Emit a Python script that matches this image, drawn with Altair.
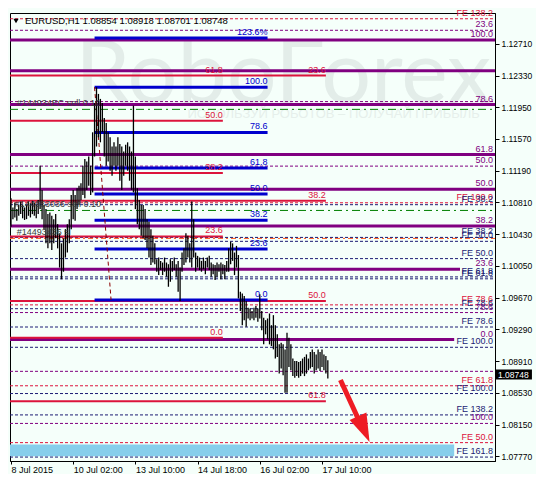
import altair as alt
import pandas as pd

# ---------------- data ----------------
highs = [1.1086, 1.1075, 1.1081, 1.1073, 1.1078, 1.1082, 1.1078, 1.1075, 1.1078, 1.1082,
         1.1080, 1.1083, 1.1081, 1.1078, 1.1084, 1.1125, 1.1096, 1.1078, 1.1073, 1.1067,
         1.1069, 1.1065, 1.1061, 1.1067, 1.1055, 1.1044, 1.1032, 1.1038, 1.1049, 1.1055,
         1.1061, 1.1090, 1.1096, 1.1090, 1.1098, 1.1101, 1.1104, 1.1125, 1.1133, 1.1130,
         1.1136, 1.1125, 1.1165, 1.1200, 1.1219, 1.1211, 1.1205, 1.1200, 1.1182, 1.1176,
         1.1165, 1.1159, 1.1148, 1.1153, 1.1148, 1.1159, 1.1151, 1.1148, 1.1142, 1.1150,
         1.1153, 1.1148, 1.1142, 1.1197, 1.1136, 1.1098, 1.1084, 1.1078, 1.1078, 1.1073,
         1.1061, 1.1058, 1.1049, 1.1041, 1.1032, 1.1013, 1.1015, 1.1011, 1.1009, 1.1015,
         1.1009, 1.1007, 1.1013, 1.1011, 1.1015, 1.1007, 1.1011, 1.1003, 1.1021, 1.1026,
         1.1044, 1.1041, 1.1032, 1.1082, 1.1061, 1.1021, 1.1017, 1.1015, 1.1011, 1.1015,
         1.1011, 1.1015, 1.1017, 1.1009, 1.1007, 1.1006, 1.1009, 1.1007, 1.1009, 1.1007,
         1.1006, 1.1011, 1.1026, 1.1034, 1.1032, 1.1021, 1.1029, 1.1018, 1.0974, 1.0972,
         1.0969, 1.0963, 1.0955, 1.0954, 1.0951, 1.0955, 1.0957, 1.0954, 1.0971, 1.0951,
         1.0943, 1.0940, 1.0942, 1.0948, 1.0934, 1.0946, 1.0934, 1.0923, 1.0911, 1.0913,
         1.0911, 1.0905, 1.0925, 1.0919, 1.0911, 1.0894, 1.0891, 1.0891, 1.0890, 1.0891,
         1.0894, 1.0896, 1.0899, 1.0894, 1.0902, 1.0905, 1.0902, 1.0899, 1.0905, 1.0902,
         1.0905, 1.0899, 1.0897, 1.0892]
lows = [1.1052, 1.1061, 1.1063, 1.1059, 1.1065, 1.1067, 1.1062, 1.1060, 1.1061, 1.1065,
        1.1063, 1.1067, 1.1065, 1.1062, 1.1067, 1.1073, 1.1061, 1.1049, 1.1032, 1.1026,
        1.1032, 1.1024, 1.1032, 1.1038, 1.1026, 1.1003, 1.0989, 1.0998, 1.1015, 1.1021,
        1.1032, 1.1049, 1.1061, 1.1059, 1.1073, 1.1078, 1.1084, 1.1090, 1.1086, 1.1096,
        1.1101, 1.1090, 1.1093, 1.1136, 1.1148, 1.1159, 1.1153, 1.1165, 1.1136, 1.1125,
        1.1130, 1.1119, 1.1113, 1.1125, 1.1119, 1.1125, 1.1107, 1.1096, 1.1113, 1.1125,
        1.1119, 1.1107, 1.1096, 1.1093, 1.1073, 1.1055, 1.1049, 1.1041, 1.1038, 1.1036,
        1.1026, 1.1015, 1.1006, 1.1009, 1.1007, 1.0998, 1.0994, 1.1000, 1.0994, 1.0998,
        1.0992, 1.0980, 1.0986, 1.0998, 1.1000, 1.0992, 1.0974, 1.0963, 1.0998, 1.1006,
        1.1009, 1.1015, 1.1009, 1.1003, 1.1015, 1.0998, 1.1003, 1.1000, 1.0998, 1.1001,
        1.0995, 1.1003, 1.1000, 1.0992, 1.0995, 1.0988, 1.0992, 1.0998, 1.0989, 1.0995,
        1.0989, 1.0998, 1.0998, 1.1007, 1.1011, 1.0994, 1.1003, 1.0966, 1.0951, 1.0934,
        1.0940, 1.0932, 1.0942, 1.0940, 1.0942, 1.0940, 1.0943, 1.0938, 1.0942, 1.0928,
        1.0911, 1.0923, 1.0917, 1.0911, 1.0909, 1.0905, 1.0894, 1.0896, 1.0876, 1.0882,
        1.0874, 1.0853, 1.0853, 1.0884, 1.0880, 1.0873, 1.0871, 1.0873, 1.0871, 1.0873,
        1.0876, 1.0873, 1.0876, 1.0880, 1.0882, 1.0884, 1.0876, 1.0880, 1.0882, 1.0879,
        1.0884, 1.0880, 1.0876, 1.0870]

x_tick_pos = [0, 32, 64, 96, 128, 160]
x_tick_text = ["8 Jul 2015", "10 Jul 02:00", "13 Jul 10:00", "14 Jul 18:00", "16 Jul 02:00", "17 Jul 10:00"]
price_ticks = [1.12710, 1.12330, 1.11950, 1.11570, 1.11190, 1.10810, 1.10430,
               1.10050, 1.09670, 1.09290, 1.08910, 1.08530, 1.08150, 1.07770]

title_text = "EURUSD,H1  1.08854 1.08918 1.08701 1.08748"
last_price = 1.08748

# purple solid Fibonacci (full width)
ps_price = [1.12756, 1.12387, 1.11983, 1.11383, 1.10968, 1.10529, 1.10010, 1.09167]
ps_end = [249, 249, 249, 249, 249, 249, 231, 228]
ps_label = ["100.0", "", "78.6", "61.8", "50.0", "38.2", "23.6", "0.0"]

# purple dashed Fibonacci
pd_price = [1.12872, 1.12018, 1.11245, 1.09491, 1.08787, 1.08163]
pd_label = ["23.6", "", "50.0", "78.6", "", "100.0"]

# red solid Fibonacci lines (two sets)
rs_price = [1.12329, 1.11787, 1.11164, 1.10829, 1.10402, 1.09629, 1.09190, 1.08429]
rs_end = [162, 109, 109, 162, 109, 162, 109, 162]
rl_text = ["61.8", "23.6", "50.0", "38.2", "38.2", "23.6", "50.0", "0.0", "61.8"]
rl_price = [1.12329, 1.12329, 1.11787, 1.11164, 1.10829, 1.10402, 1.09629, 1.09190, 1.08429]
rl_pos = [109, 162, 109, 109, 162, 109, 162, 109, 162]

# blue Fibonacci
bl_price = [1.12779, 1.12191, 1.11649, 1.11222, 1.10910, 1.10598, 1.10252, 1.09641]
bl_label = ["123.6%", "100.0", "78.6", "61.8", "50.0", "38.2", "23.6", "0.0"]
bl_start, bl_end = 43, 132

# Fibonacci expansions
fer_price = [1.13010, 1.10806, 1.09583, 1.08614, 1.07933]
fer_label = ["FE 138.2", "FE 100.0", "FE 78.6", "FE 61.8", "FE 50.0"]
fen_price = [1.10783, 1.10391, 1.10344, 1.10137, 1.09918, 1.09895, 1.09537,
             1.09318, 1.09075, 1.08521, 1.08265, 1.07760]
fen_label = ["FE 38.2", "FE 38.2", "FE 50.0", "FE 50.0", "FE 61.8", "FE 61.8", "FE 78.6",
             "FE 78.6", "FE 100.0", "FE 100.0", "FE 138.2", "FE 161.8"]

# order lines
green_price = [1.11925, 1.10714]
orange_price = [1.10379]
order_text = ["#144934EC sell 0.10", "#144983036 sell 0.10", "#14493436 sl"]
order_price = [1.11925, 1.10714, 1.10379]
order_pos = [3, 2, 3]

# target zone band
band_top, band_bottom, band_end = 1.07910, 1.07771, 228

# trend line (dashed) and arrow
trend_x = [43, 51.5]
trend_p = [1.12191, 1.09641]
arrow_x = [169.5, 179.5]
arrow_p = [1.08683, 1.08175]
head_x, head_p = 181.5, 1.08095

# ---------------- styling ----------------
X_MIN, X_MAX = -0.5, 249
Y_MIN, Y_MAX = 1.07713, 1.13079
LABEL_X = 248
BG = "#f5fffa"
FONT = "Liberation Sans"
PURPLE, RED, BLUE, NAVY = "#800080", "#dc143c", "#0000cd", "#1c1c74"

xs = alt.Scale(domain=[X_MIN, X_MAX], nice=False, zero=False)
ys = alt.Scale(domain=[Y_MIN, Y_MAX], nice=False, zero=False)

label_expr = " : ".join(f"datum.value == {p} ? '{t}'" for p, t in zip(x_tick_pos, x_tick_text)) + " : ''"
XAX = alt.Axis(values=x_tick_pos, labelExpr=label_expr, labelAlign="left", title=None,
               labelFontSize=9, labelFont=FONT, labelColor="black", tickSize=3,
               tickColor="black", domainColor="black", labelPadding=1,
               grid=False, labelFlush=False, labelOverlap=False)
YAX = alt.Axis(orient="right", values=price_ticks, format=".5f", labelFontSize=8.5, title=None,
               labelFont=FONT, labelColor="black", tickSize=4, tickColor="black",
               domainColor="black", labelPadding=2, grid=False, labelOverlap=False)


def X(field):
    return alt.X(field, scale=xs, axis=XAX, title=None)


def Y(field):
    return alt.Y(field, scale=ys, axis=YAX, title=None)


def seg_df(prices, x0, x1):
    n = len(prices)
    x0 = x0 if isinstance(x0, list) else [x0] * n
    x1 = x1 if isinstance(x1, list) else [x1] * n
    return pd.DataFrame({"p": prices, "x0": x0, "x1": x1})


def lab_df(texts, prices, pos):
    n = len(texts)
    pos = pos if isinstance(pos, list) else [pos] * n
    d = pd.DataFrame({"t": texts, "p": prices, "x": pos})
    return d[d["t"] != ""]


def lines(df, color, width, dash=None):
    kw = dict(color=color, strokeWidth=width)
    if dash:
        kw["strokeDash"] = dash
    return alt.Chart(df).mark_rule(**kw).encode(x=X("x0:Q"), x2="x1:Q", y=Y("p:Q"))


def labels(df, color, size=9):
    return alt.Chart(df).mark_text(align="right", baseline="bottom", dy=-1, color=color,
                                   font=FONT, fontSize=size).encode(
        x=X("x:Q"), y=Y("p:Q"), text="t:N")


bars_df = pd.DataFrame({"i": list(range(len(highs))), "high": highs, "low": lows})
bars = alt.Chart(bars_df).mark_rule(color="black", strokeWidth=1.3).encode(
    x=X("i:Q"), y=Y("low:Q"), y2="high:Q")

watermark = alt.Chart(pd.DataFrame({"t": ["RoboForex"], "x": [140], "p": [1.1200]})).mark_text(
    font="Lato", fontSize=88, color="#e3ede9", baseline="alphabetic", align="center").encode(
    x=X("x:Q"), y=Y("p:Q"), text="t:N")
watermark2 = alt.Chart(pd.DataFrame({"t": ["ИСПОЛЬЗУЙ РОБОТОВ – ПОЛУЧАЙ ПРИБЫЛЬ"], "x": [166], "p": [1.1182]})).mark_text(
    font=FONT, fontSize=13, color="#e6efeb", baseline="alphabetic", align="center").encode(
    x=X("x:Q"), y=Y("p:Q"), text="t:N")

band = alt.Chart(pd.DataFrame({"x0": [X_MIN], "x1": [band_end], "p0": [band_top], "p1": [band_bottom]})).mark_rect(
    color="#87ceeb").encode(x=X("x0:Q"), x2="x1:Q", y=Y("p0:Q"), y2="p1:Q")

trend = alt.Chart(pd.DataFrame({"x0": [trend_x[0]], "x1": [trend_x[1]], "p0": [trend_p[0]], "p1": [trend_p[1]]})).mark_rule(
    color="#8b0000", strokeWidth=1, strokeDash=[4, 3]).encode(
    x=X("x0:Q"), x2="x1:Q", y=Y("p0:Q"), y2="p1:Q")

arrow = alt.Chart(pd.DataFrame({"x0": [arrow_x[0]], "x1": [arrow_x[1]], "p0": [arrow_p[0]], "p1": [arrow_p[1]]})).mark_rule(
    color="#ee1c24", strokeWidth=5).encode(x=X("x0:Q"), x2="x1:Q", y=Y("p0:Q"), y2="p1:Q")
arrow_head = alt.Chart(pd.DataFrame({"x": [head_x], "p": [head_p]})).mark_point(
    shape="M0,1 L-0.65,-1 L0.65,-1 Z", filled=True, size=800, angle=336, color="#ee1c24", opacity=1).encode(
    x=X("x:Q"), y=Y("p:Q"))

tag_df = pd.DataFrame({"x0": [X_MAX], "x1": [X_MAX + 19], "xm": [X_MAX + 1.5],
                       "p": [last_price], "pt": [last_price + 0.0006], "pb": [last_price - 0.0006],
                       "t": [f"{last_price:.5f}"]})
tag_box = alt.Chart(tag_df).mark_rect(color="black").encode(
    x=X("x0:Q"), x2="x1:Q", y=Y("pt:Q"), y2="pb:Q")
tag_text = alt.Chart(tag_df).mark_text(color="white", align="left", baseline="middle", font=FONT, fontSize=8.5).encode(
    x=X("xm:Q"), y=Y("p:Q"), text="t:N")

title = alt.Chart(pd.DataFrame({"t": [title_text]})).mark_text(
    align="left", baseline="middle", font=FONT, fontSize=9.5, color="black").encode(
    x=alt.value(15), y=alt.value(8), text="t:N")
tri = alt.Chart(pd.DataFrame({"t": [1]})).mark_point(shape="triangle-down", filled=True, color="black",
                                                     size=28, opacity=1).encode(x=alt.value(6), y=alt.value(8))

orders = alt.Chart(lab_df(order_text, order_price, order_pos)).mark_text(
    align="left", baseline="bottom", dy=-1, color="#3a3a3a", font=FONT, fontSize=9).encode(
    x=X("x:Q"), y=Y("p:Q"), text="t:N")

layers = [
    bars.mark_rule(opacity=0),
    watermark, watermark2, band,
    lines(seg_df(green_price, X_MIN, X_MAX), "#008000", 1, [8, 4, 2, 4]),
    lines(seg_df(orange_price, X_MIN, X_MAX), "#ff5a1e", 1, [5, 3, 2, 3]),
    lines(seg_df(fer_price, X_MIN, X_MAX), RED, 1, [3, 2]),
    lines(seg_df(fen_price, X_MIN, X_MAX), NAVY, 1, [3, 2]),
    lines(seg_df(pd_price, X_MIN, X_MAX), PURPLE, 1, [3, 2]),
    lines(seg_df(ps_price, X_MIN, ps_end), PURPLE, 3),
    lines(seg_df(rs_price, X_MIN, rs_end), RED, 2),
    lines(seg_df(bl_price, bl_start, bl_end), BLUE, 3),
    trend,
    bars,
    labels(lab_df(ps_label, ps_price, LABEL_X), PURPLE),
    labels(lab_df(pd_label, pd_price, LABEL_X), PURPLE),
    labels(lab_df(fer_label, fer_price, LABEL_X), RED),
    labels(lab_df(fen_label, fen_price, LABEL_X), NAVY),
    labels(lab_df(rl_text, rl_price, rl_pos), RED),
    labels(lab_df(bl_label, bl_price, bl_end), BLUE),
    orders,
    arrow, arrow_head,
    tag_box, tag_text,
    title, tri,
]

chart = alt.layer(*layers).properties(
    width=528, height=466, padding=0,
    autosize=alt.AutoSizeParams(type="fit", contains="padding"),
).configure(background=BG).configure_view(stroke="black", strokeWidth=1, fill=BG)

chart.save("out.html", embed_options={"renderer": "svg", "actions": False})
